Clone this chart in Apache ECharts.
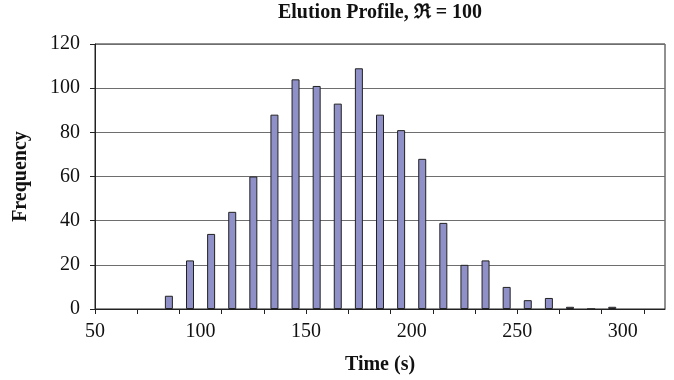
<!DOCTYPE html>
<html>
<head>
<meta charset="utf-8">
<script src="https://cdn.jsdelivr.net/npm/echarts@6/dist/echarts.min.js"></script>
<style>
  html, body { margin: 0; padding: 0; background: #fff; }
  #chart { width: 674px; height: 380px; }
</style>
</head>
<body>
<div id="chart"></div>
<script>
// bin centres (s) and counts
var binTimes = [85, 95, 105, 115, 125, 135, 145, 155, 165, 175, 185, 195, 205, 215, 225, 235, 245, 255, 265, 275, 285, 295]
var counts   = [6, 22, 34, 44, 60, 88, 104, 101, 93, 109, 88, 81, 68, 39, 20, 22, 10, 4, 5, 1, 0, 1]

var xLabelValues = [50, 100, 150, 200, 250, 300]
var xTickValues = [50, 70, 90, 110, 130, 150, 170, 190, 210, 230, 250, 270, 290, 310]

var serif = '"Liberation Serif", "Times New Roman", serif'

var chart = echarts.init(document.getElementById('chart'))

var barData = binTimes.map(function (t, i) { return [t, counts[i]] })

chart.setOption({
  animation: false,
  textStyle: { fontFamily: serif, color: '#111' },
  title: {
    text: 'Elution Profile, \u211C = 100',
    left: 380,
    top: 3,
    padding: 0,
    textAlign: 'center',
    textStyle: { fontFamily: serif, fontSize: 20, fontWeight: 'bold', color: '#111' }
  },
  grid: {
    left: 95,
    right: 9,
    top: 44,
    bottom: 70,
    show: true,
    borderColor: '#222',
    borderWidth: 1
  },
  xAxis: {
    type: 'value',
    min: 50,
    max: 320,
    name: 'Time (s)',
    nameLocation: 'middle',
    nameGap: 46,
    nameTextStyle: { fontFamily: serif, fontSize: 20, fontWeight: 'bold', color: '#111' },
    axisLine: { lineStyle: { color: '#222', width: 1 } },
    axisTick: {
      show: true,
      inside: false,
      length: 5,
      customValues: xTickValues,
      lineStyle: { color: '#222' }
    },
    axisLabel: {
      customValues: xLabelValues,
      margin: 13,
      fontFamily: serif,
      fontSize: 20,
      color: '#111'
    },
    splitLine: { show: false }
  },
  yAxis: {
    type: 'value',
    min: 0,
    max: 120,
    interval: 20,
    name: 'Frequency',
    nameLocation: 'middle',
    nameGap: 64,
    nameTextStyle: { fontFamily: serif, fontSize: 20, fontWeight: 'bold', color: '#111' },
    axisLine: { show: true, lineStyle: { color: '#222', width: 1 } },
    axisTick: { show: true, inside: false, length: 5, lineStyle: { color: '#222' } },
    axisLabel: { margin: 15, fontFamily: serif, fontSize: 20, color: '#111' },
    splitLine: { show: true, lineStyle: { color: '#6e6e6e', width: 1 } }
  },
  series: [{
    type: 'bar',
    data: barData,
    barWidth: 8,
    itemStyle: {
      color: '#9090c8',
      borderColor: '#222',
      borderWidth: 1
    }
  }]
})
</script>
</body>
</html>
